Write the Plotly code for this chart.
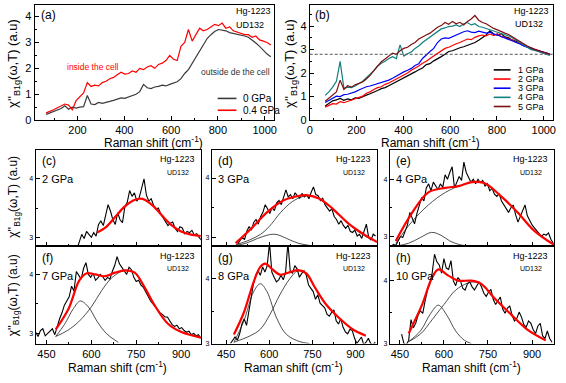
import plotly.graph_objects as go

W, H = 566, 383

# ---- top panels: common Raman grid (cm-1)
RAMAN_TOP = list(range(66, 1027, 16))

A_0GPA = [0.22, 0.28, 0.33, 0.38, 0.45, 0.55, 0.42, 0.5, 0.46, 0.5, 0.52, 0.95, 0.62, 0.6, 0.68, 0.65,
          0.7, 0.72, 0.76, 0.8, 0.86, 0.84, 0.9, 0.95, 1.0, 1.1, 1.38, 1.25, 1.22, 1.28, 1.3, 1.35,
          1.32, 1.38, 1.42, 1.48, 1.6, 1.8, 1.95, 2.2, 2.4, 2.65, 2.95, 3.15, 3.3, 3.42, 3.5, 3.48,
          3.45, 3.38, 3.35, 3.32, 3.28, 3.25, 3.2, 3.1, 2.98, 2.85, 2.7, 2.55, 2.45]
A_04GPA = [0.28, 0.33, 0.4, 0.48, 0.55, 0.62, 0.58, 0.4, 0.75, 0.9, 1.05, 1.45, 1.3, 1.35, 1.32, 1.45,
           1.5, 1.6, 1.65, 1.75, 1.85, 1.78, 1.8, 1.9, 1.85, 2.0, 1.95, 2.05, 2.1, 2.0, 2.15, 2.2,
           2.3, 2.5, 2.35, 2.3, 2.85, 3.0, 3.5, 3.05, 3.3, 3.55, 3.45, 3.5, 3.6, 3.7, 3.65, 3.75,
           3.55, 3.6, 3.45, 3.4, 3.35, 3.3, 3.3, 3.2, 3.25, 3.1, 3.05, 3.0, 2.9]
A_LABELS = ['0 GPa', '0.4 GPa']
A_COLORS = ['#3a3a3a', '#ff0000']

B_1GPA = [0.6, 0.72, 0.82, 0.86, 0.92, 0.84, 0.9, 0.86, 0.94, 0.92, 1.0, 1.06, 1.12, 1.18, 1.26, 1.34,
          1.38, 1.46, 1.54, 1.62, 1.7, 1.78, 1.86, 1.96, 2.05, 2.14, 2.22, 2.36, 2.4, 2.52, 2.6, 2.7,
          2.8, 2.92, 2.95, 3.02, 3.08, 3.12, 3.18, 3.22, 3.3, 3.4, 3.5, 3.62, 3.8, 3.66, 3.62, 3.68,
          3.54, 3.5, 3.4, 3.36, 3.28, 3.2, 3.1, 3.06, 2.98, 2.96, 2.88, 2.86, 2.8]
B_2GPA = [0.55, 0.62, 0.7, 0.68, 0.78, 0.74, 0.8, 0.86, 0.9, 0.96, 1.02, 1.14, 1.2, 1.3, 1.38, 1.42,
          1.52, 1.58, 1.66, 1.74, 1.84, 1.9, 2.0, 2.12, 2.2, 2.3, 2.42, 2.5, 2.62, 2.72, 2.85, 2.95,
          3.05, 3.1, 3.18, 3.25, 3.3, 3.38, 3.45, 3.42, 3.52, 3.58, 3.62, 3.58, 3.66, 3.6, 3.68, 3.55,
          3.52, 3.45, 3.42, 3.3, 3.28, 3.18, 3.12, 3.05, 3.0, 2.94, 2.9, 2.86, 2.8]
B_3GPA = [0.75, 0.85, 0.95, 1.02, 1.0, 1.08, 1.1, 1.14, 1.2, 1.28, 1.36, 1.42, 1.45, 1.5, 1.56, 1.6,
          1.64, 1.7, 1.78, 1.88, 1.98, 2.05, 2.12, 2.2, 2.32, 2.4, 2.62, 2.78, 2.92, 3.05, 3.3, 3.45,
          3.5, 3.48, 3.55, 3.62, 3.7, 3.76, 3.8, 3.74, 3.72, 3.78, 3.74, 3.7, 3.74, 3.66, 3.62, 3.56,
          3.5, 3.44, 3.38, 3.3, 3.24, 3.16, 3.1, 3.04, 3.0, 2.94, 2.9, 2.85, 2.8]
B_4GPA = [1.05, 1.2, 1.4, 1.65, 2.5, 1.35, 1.4, 1.38, 1.45, 1.55, 1.65, 1.8, 1.95, 2.1, 2.3, 2.42,
          2.5, 2.62, 2.7, 2.62, 3.2, 2.72, 2.82, 2.9, 3.05, 3.15, 3.3, 3.42, 3.55, 3.68, 3.78, 3.88,
          3.92, 3.98, 4.0, 4.05, 3.98, 4.1, 4.15, 4.05, 4.1, 3.98, 3.95, 3.9, 3.86, 3.8, 3.76, 3.7,
          3.66, 3.58, 3.5, 3.4, 3.3, 3.2, 3.1, 3.0, 2.96, 2.9, 2.86, 2.8, 2.75]
B_5GPA = [0.8, 0.92, 1.05, 1.2, 1.7, 1.3, 1.46, 1.4, 1.5, 1.55, 1.62, 1.75, 1.9, 2.1, 2.3, 2.48,
          2.6, 2.74, 2.85, 2.8, 2.95, 3.05, 3.1, 3.22, 3.3, 3.45, 3.55, 3.62, 3.7, 3.82, 3.95, 4.02,
          4.15, 4.08, 4.2, 4.1, 4.16, 4.05, 4.2, 4.3, 4.45, 4.25, 4.15, 4.1, 4.0, 3.9, 3.84, 3.76,
          3.7, 3.64, 3.55, 3.45, 3.35, 3.25, 3.15, 3.06, 3.0, 2.95, 2.9, 2.86, 2.8]
B_LABELS = ['1 GPa', '2 GPa', '3 GPa', '4 GPa', '5 GPa']
B_SERIES = [B_1GPA, B_2GPA, B_3GPA, B_4GPA, B_5GPA]
B_COLORS = ['#000000', '#ff0000', '#0000ff', '#108080', '#7f1010']
B_LEVEL = 2.8

# ---- bottom panels: measured spectra (start, step 8 cm-1) + fits
C_START = 552
C_DATA = [2.8, 2.92, 3.05, 2.98, 3.1, 3.05, 3.0, 3.08, 3.02, 3.22, 3.28, 3.2, 3.4, 3.56, 3.45, 3.3,
          3.22, 3.42, 3.3, 3.25, 3.52, 3.6, 3.8, 3.7, 3.76, 3.62, 3.68, 3.85, 4.0, 3.72, 3.62, 3.66,
          3.55, 3.48, 3.5, 3.4, 3.34, 3.28, 3.2, 3.24, 3.26, 3.15, 3.1, 3.18, 3.16, 3.06, 3.1, 3.08,
          3.12, 3.04, 3.06, 3.0, 2.95]
C_FIT_X = [619, 650, 680, 710, 740, 760, 780, 810, 840, 870, 900, 930, 966]
C_FIT = [3.08, 3.18, 3.35, 3.52, 3.63, 3.66, 3.64, 3.52, 3.35, 3.2, 3.1, 3.05, 3.02]

D_START = 490
D_DATA = [2.88, 2.95, 3.0, 2.96, 3.1, 3.18, 3.12, 3.25, 3.3, 3.22, 3.35, 3.42, 3.55, 3.48, 3.4, 3.5,
          3.45, 3.58, 3.62, 3.55, 3.7, 3.8, 3.68, 3.72, 3.65, 3.75, 3.7, 3.66, 3.74, 3.68, 3.72, 3.65,
          3.76, 3.85, 3.72, 3.7, 3.62, 3.66, 3.55, 3.5, 3.44, 3.48, 3.35, 3.3, 3.22, 3.28, 3.2, 3.15,
          3.2, 3.1, 3.08, 3.12, 3.02, 3.05, 2.98, 3.1, 3.22, 3.0, 2.95, 3.05, 3.02]
D_FIT_X = [483, 534, 592, 649, 706, 729, 775, 821, 878, 935, 975]
D_FIT = [2.9, 3.13, 3.42, 3.62, 3.7, 3.71, 3.65, 3.48, 3.22, 3.03, 2.92]
D_P1_X = [483, 520, 560, 590, 610, 630, 660, 700, 741]
D_P1 = [2.86, 2.9, 2.98, 3.03, 3.05, 3.04, 2.98, 2.9, 2.86]
D_P2_X = [483, 530, 570, 600, 640, 680, 720, 760, 800, 850, 900, 940, 975]
D_P2 = [2.87, 2.95, 3.05, 3.18, 3.42, 3.6, 3.69, 3.68, 3.56, 3.35, 3.13, 3.0, 2.92]

E_START = 420
E_DATA = [2.82, 2.86, 2.84, 2.92, 3.0, 2.98, 3.08, 3.2, 3.42, 3.3, 3.22, 3.4, 3.55, 3.68, 3.62, 3.85,
          3.92, 3.8, 3.95, 3.88, 3.82, 3.92, 3.86, 4.08, 4.0, 4.12, 4.22, 3.85, 3.95, 4.05, 3.98, 4.3,
          4.12, 4.02, 3.95, 4.0, 3.92, 4.0, 3.94, 3.98, 3.88, 3.92, 3.8, 3.84, 3.74, 3.7, 3.75, 3.62,
          3.55, 3.48, 3.42, 3.5, 3.55, 3.38, 3.25, 3.35, 3.45, 3.55, 3.36, 3.28, 3.2, 3.15, 3.1, 3.05,
          3.0, 3.04, 3.02, 3.06, 2.95, 2.88]
E_FIT_X = [436, 490, 547, 605, 650, 694, 739, 795, 851, 907, 975]
E_FIT = [2.92, 3.4, 3.77, 3.85, 3.88, 3.95, 3.93, 3.7, 3.42, 3.1, 2.85]
E_P1_X = [436, 480, 520, 558, 590, 620, 650, 680]
E_P1 = [2.83, 2.88, 2.98, 3.07, 3.02, 2.92, 2.86, 2.83]
E_P2_X = [436, 490, 547, 605, 660, 700, 740, 795, 851, 907, 975]
E_P2 = [2.88, 3.25, 3.55, 3.77, 3.9, 3.95, 3.93, 3.7, 3.42, 3.1, 2.85]

F_START = 414
F_DATA = [3.02, 2.95, 3.05, 3.08, 2.96, 3.0, 3.04, 3.08, 2.98, 3.12, 3.25, 3.35, 3.48, 3.55, 3.62, 3.8,
          3.72, 4.05, 3.98, 3.92, 4.1, 4.2, 4.0, 3.95, 4.02, 3.9, 3.94, 4.0, 3.96, 3.9, 3.95, 3.92,
          4.05, 4.15, 4.3, 4.18, 4.12, 4.05, 4.0, 4.12, 4.08, 3.95, 3.88, 3.9, 3.82, 3.78, 3.7, 3.62,
          3.55, 3.5, 3.45, 3.4, 3.35, 3.32, 3.28, 3.28, 3.22, 3.15, 3.12, 3.14, 3.08, 3.1, 3.05, 3.02,
          3.04, 2.98, 3.0, 2.96, 2.98, 2.92]
F_FIT_X = [481, 524, 560, 585, 613, 646, 679, 712, 745, 778, 811, 855, 899, 966]
F_FIT = [3.07, 3.42, 3.9, 4.02, 4.0, 3.97, 4.03, 4.07, 4.03, 3.78, 3.48, 3.17, 3.03, 2.93]
F_P1_X = [481, 510, 540, 563, 590, 620, 650, 690]
F_P1 = [2.95, 3.15, 3.42, 3.55, 3.45, 3.2, 3.0, 2.85]
F_P2_X = [481, 520, 558, 600, 635, 670, 712, 745, 778, 811, 855, 899, 966]
F_P2 = [2.95, 3.05, 3.2, 3.45, 3.73, 3.95, 4.07, 4.03, 3.78, 3.48, 3.17, 3.03, 2.93]

G_START = 465
G_DATA = [3.0, 3.05, 3.1, 3.05, 3.15, 3.3, 3.38, 3.28, 3.5, 3.7, 3.92, 4.05, 4.12, 4.05, 4.18, 4.1,
          4.2, 4.55, 4.1, 4.02, 3.95, 3.98, 4.05, 3.98, 4.1, 4.55, 4.12, 4.08, 4.2, 4.15, 4.02, 4.08,
          4.12, 4.05, 3.9, 3.85, 3.8, 3.68, 3.75, 3.62, 3.58, 3.55, 3.45, 3.42, 3.48, 3.52, 3.35, 3.3,
          3.38, 3.25, 3.18, 3.15, 3.22, 3.2, 3.08, 3.0, 3.05, 3.1, 2.98, 3.02, 3.08, 3.0, 2.98, 3.02]
G_FIT_X = [477, 511, 546, 569, 586, 609, 637, 672, 700, 729, 758, 798, 844, 890, 936]
G_FIT = [3.14, 3.47, 3.95, 4.18, 4.23, 4.15, 4.06, 4.1, 4.13, 4.08, 3.87, 3.6, 3.39, 3.22, 3.12]
G_P1_X = [477, 511, 546, 569, 592, 626, 660, 706, 740]
G_P1 = [3.02, 3.34, 3.8, 3.92, 3.8, 3.39, 3.14, 3.03, 3.0]
G_P2_X = [477, 534, 569, 603, 637, 672, 700, 729, 758, 798, 844, 890, 936]
G_P2 = [3.02, 3.12, 3.22, 3.45, 3.75, 4.0, 4.12, 4.08, 3.87, 3.6, 3.39, 3.22, 3.12]

H_START = 456
H_DATA = [3.15, 3.0, 2.98, 3.05, 3.38, 3.25, 3.32, 3.45, 3.52, 3.48, 3.68, 3.85, 3.95, 4.12, 4.42, 4.3,
          4.25, 4.12, 4.35, 4.2, 4.18, 4.32, 4.0, 3.92, 4.05, 4.0, 3.88, 3.85, 3.95, 3.98, 3.9, 3.85,
          3.92, 3.98, 3.9, 3.8, 3.75, 3.82, 3.86, 3.7, 3.62, 3.68, 3.74, 3.55, 3.48, 3.56, 3.6, 3.45,
          3.36, 3.4, 3.5, 3.42, 3.3, 3.26, 3.36, 3.32, 3.22, 3.16, 3.28, 3.32, 3.12, 3.08, 3.2, 3.08,
          3.02]
H_FIT_X = [480, 525, 558, 581, 615, 648, 693, 727, 772, 829, 884, 946]
H_FIT = [3.16, 3.61, 4.03, 4.18, 4.08, 4.0, 4.0, 3.95, 3.72, 3.46, 3.22, 3.05]
H_P1_X = [480, 520, 555, 581, 610, 640, 670, 693]
H_P1 = [3.03, 3.2, 3.48, 3.61, 3.45, 3.2, 3.05, 3.0]
H_P2_X = [480, 520, 560, 600, 640, 680, 700, 727, 772, 829, 884, 946]
H_P2 = [3.03, 3.15, 3.38, 3.62, 3.85, 3.96, 3.98, 3.95, 3.72, 3.46, 3.22, 3.05]

FONT = 'Arial, Liberation Sans, sans-serif'
YTITLE = "χ''<sub>B1g</sub>(ω,T) (a.u)"
XTITLE = 'Raman shift (cm<sup>-1</sup>)'


def px(x):
    return x / W


def py(y):
    return 1 - y / H


def refs(n):
    return ('x' if n == 1 else f'x{n}'), ('y' if n == 1 else f'y{n}')


# key, axis no, x pixel span, y pixel span, x range, y range
PANELS = [
    ('a', 1, (32, 274), (5, 122), [17, 1040], [0, 4.45]),
    ('b', 2, (310, 556), (5, 122), [0, 1040], [0, 4.9]),
    ('c', 3, (33, 200), (152, 250), [414, 966], [2.85, 4.5]),
    ('d', 4, (211, 378), (152, 250), [400, 975], [2.85, 4.48]),
    ('e', 5, (391, 557), (152, 250), [416, 975], [2.83, 4.52]),
    ('f', 6, (33, 200), (250, 349), [414, 966], [2.83, 4.48]),
    ('g', 7, (211, 378), (250, 349), [400, 975], [3.0, 4.5]),
    ('h', 8, (391, 557), (250, 349), [416, 975], [3.0, 4.55]),
]

fig = go.Figure()
layout = {}
notes = []
shapes = []


def note(x, y, text, size, xanchor='left', color='black', angle=0):
    notes.append(dict(x=px(x), y=py(y), xref='paper', yref='paper', text=text, showarrow=False,
                      xanchor=xanchor, yanchor='middle', textangle=angle,
                      font=dict(size=size, color=color, family=FONT)))


def legend_row(x0, x1, y, label, color, size):
    # hand-drawn legend sample (line + label)
    shapes.append(dict(type='line', xref='paper', yref='paper', x0=px(x0), x1=px(x1),
                       y0=py(y), y1=py(y), line=dict(color=color, width=1.6)))
    note(x1 + 5, y, label, size)


for key, n, (x0, x1), (y0, y1), xr, yr in PANELS:
    xa = 'xaxis' if n == 1 else f'xaxis{n}'
    ya = 'yaxis' if n == 1 else f'yaxis{n}'
    xref, yref = refs(n)
    common = dict(showline=True, mirror=True, linecolor='black', linewidth=1, ticks='inside',
                  ticklen=4, tickcolor='black', showgrid=False, zeroline=False,
                  tickfont=dict(size=11, family=FONT, color='black'))
    if n <= 2:
        xax = dict(common, dtick=200, tick0=0,
                   minor=dict(dtick=100, ticks='inside', ticklen=2, tickcolor='black'))
        yax = dict(common, dtick=1, tick0=0,
                   minor=dict(dtick=0.5, ticks='inside', ticklen=2, tickcolor='black'))
    else:
        xax = dict(common, tickvals=[450, 600, 750, 900], showticklabels=n >= 6,
                   minor=dict(tickvals=[525, 675, 825], ticks='inside', ticklen=2, tickcolor='black'))
        yax = dict(common, tickvals=[3, 4], tickfont=dict(size=7, family=FONT, color='black'),
                   minor=dict(tickvals=[3.5], ticks='inside', ticklen=2, tickcolor='black'))
    layout[xa] = dict(xax, domain=[px(x0), px(x1)], range=xr, anchor=yref)
    layout[ya] = dict(yax, domain=[py(y1), py(y0)], range=yr, anchor=xref)

# ---- panel (a)
for label, vals, col in zip(A_LABELS, [A_0GPA, A_04GPA], A_COLORS):
    fig.add_trace(go.Scatter(x=RAMAN_TOP, y=vals, mode='lines', name=label,
                             line=dict(color=col, width=1.2)))

# ---- panel (b)
for label, vals, col in zip(B_LABELS, B_SERIES, B_COLORS):
    fig.add_trace(go.Scatter(x=RAMAN_TOP, y=vals, mode='lines', name=label, xaxis='x2', yaxis='y2',
                             line=dict(color=col, width=1.2)))
shapes.append(dict(type='line', xref='x2 domain', yref='y2', x0=0, x1=1, y0=B_LEVEL, y1=B_LEVEL,
                   line=dict(color='#555555', width=1, dash='3px,2px')))

# ---- bottom panels
BOTTOM = [
    (3, '2 GPa', C_START, C_DATA, C_FIT_X, C_FIT, None, None, None, None),
    (4, '3 GPa', D_START, D_DATA, D_FIT_X, D_FIT, D_P1_X, D_P1, D_P2_X, D_P2),
    (5, '4 GPa', E_START, E_DATA, E_FIT_X, E_FIT, E_P1_X, E_P1, E_P2_X, E_P2),
    (6, '7 GPa', F_START, F_DATA, F_FIT_X, F_FIT, F_P1_X, F_P1, F_P2_X, F_P2),
    (7, '8 GPa', G_START, G_DATA, G_FIT_X, G_FIT, G_P1_X, G_P1, G_P2_X, G_P2),
    (8, '10 GPa', H_START, H_DATA, H_FIT_X, H_FIT, H_P1_X, H_P1, H_P2_X, H_P2),
]
for n, pres, start, data, fx, fy, p1x, p1y, p2x, p2y in BOTTOM:
    xref, yref = refs(n)
    xs = list(range(start, start + 8 * len(data), 8))
    fig.add_trace(go.Scatter(x=xs, y=data, mode='lines', xaxis=xref, yaxis=yref,
                             line=dict(color='black', width=1.1)))
    if p1x:
        for cx, cy in ((p1x, p1y), (p2x, p2y)):
            fig.add_trace(go.Scatter(x=cx, y=cy, mode='lines', xaxis=xref, yaxis=yref,
                                     line=dict(color='#222222', width=0.8, shape='spline')))
    fig.add_trace(go.Scatter(x=fx, y=fy, mode='lines', xaxis=xref, yaxis=yref,
                             line=dict(color='#ff0000', width=2.2, shape='spline')))

# ---- texts
note(36, 15, '(a)', 12)
note(273, 11, 'Hg-1223', 9, 'right')
note(266, 25, 'UD132', 9, 'right')
note(63, 68, 'inside the cell', 8.5, color='#ff0000')
note(198, 73, 'outside de the cell', 8.5, color='#333333')
for i, (label, col) in enumerate(zip(A_LABELS, A_COLORS)):
    legend_row(217, 236, 100 + 12 * i, label, col, 10)
note(313, 15, '(b)', 12)
note(554, 11, 'Hg-1223', 9, 'right')
note(548, 24, 'UD132', 9, 'right')
for i, (label, col) in enumerate(zip(B_LABELS, B_COLORS)):
    legend_row(496, 513, 71 + 9.3 * i, label, col, 9)
note(11, 64, YTITLE, 13, 'center', angle=-90)
note(291, 64, YTITLE, 13, 'center', angle=-90)
note(152, 144, XTITLE, 12, 'center')
note(432, 144, XTITLE, 12, 'center')
for key, n, (x0, x1), (y0, y1), xr, yr in PANELS[2:]:
    pres = BOTTOM[n - 3][1]
    note(x0 + 4, y0 + 12, f'({key})', 12)
    note(x0 + 4, y0 + 30, pres, 11)
    note(x1 - 4, y0 + 10, 'Hg-1223', 9, 'right')
    note(x1 - 10, y0 + 23, 'UD132', 7, 'right')
note(11, 200, YTITLE, 12, 'center', angle=-90)
note(11, 300, YTITLE, 12, 'center', angle=-90)
for cx in (116, 294, 474):
    note(cx, 373, XTITLE, 12, 'center')

fig.update_layout(
    width=W, height=H,
    margin=dict(l=0, r=0, t=0, b=0),
    paper_bgcolor='white', plot_bgcolor='white',
    font=dict(family=FONT, color='black'),
    showlegend=False,
    annotations=notes, shapes=shapes,
    **layout,
)

# drop the browser's default body margin so the figure sits at the page origin
fig.write_html("out.html", config={'displayModeBar': False},
               post_script="document.body.style.margin='0';")
